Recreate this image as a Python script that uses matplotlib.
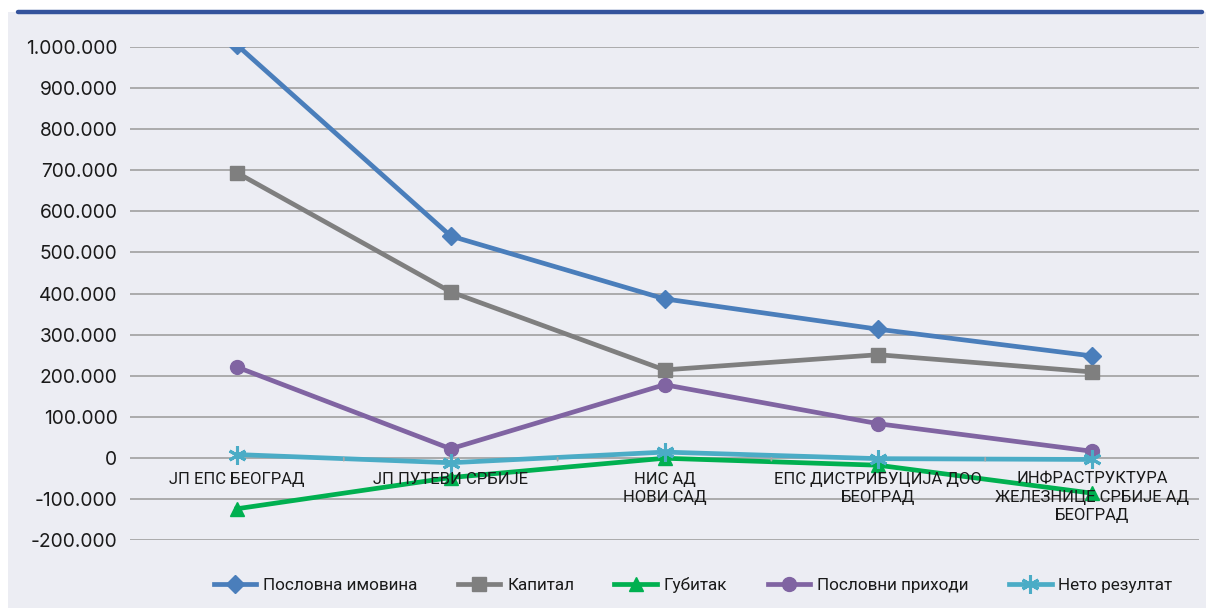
import matplotlib
matplotlib.use("Agg")
import matplotlib.pyplot as plt
from matplotlib.patches import Rectangle
from matplotlib.lines import Line2D
from matplotlib.ticker import FuncFormatter, FixedLocator

categories = [
    "ЈП ЕПС БЕОГРАД",
    "ЈП ПУТЕВИ СРБИЈЕ",
    "НИС АД\nНОВИ САД",
    "ЕПС ДИСТРИБУЦИЈА ДОО\nБЕОГРАД",
    "ИНФРАСТРУКТУРА\nЖЕЛЕЗНИЦЕ СРБИЈЕ АД\nБЕОГРАД",
]
poslovna_imovina = [1005000, 540000, 387000, 313000, 248000]
kapital = [694000, 404000, 214000, 251000, 209000]
gubitak = [-124000, -48000, -1000, -18000, -86000]
poslovni_prihodi = [221000, 22000, 178000, 83000, 16000]
neto_rezultat = [8000, -12000, 14000, -2000, -4000]

series_names = ["Пословна имовина", "Капитал", "Губитак", "Пословни приходи", "Нето резултат"]
series_values = [poslovna_imovina, kapital, gubitak, poslovni_prihodi, neto_rezultat]
colors = ["#4A7EBB", "#7F7F7F", "#00B050", "#8064A2", "#4BACC6"]
markers = ["D", "s", "^", "o", (6, 2, 0)]
msizes = [9, 9.5, 10, 10, 13]

yticks = list(range(-200000, 1000001, 100000))

W, H = 1206, 608
fig = plt.figure(figsize=(W / 100, H / 100), dpi=100, facecolor="white")
bg = "#ECEDF3"
fig.add_artist(Rectangle((8 / W, 0), 1 - 8 / W, 1 - 12 / H, transform=fig.transFigure,
                         facecolor=bg, edgecolor="none", zorder=0))
fig.add_artist(Line2D([18 / W, 1 - 4 / W], [1 - 12 / H, 1 - 12 / H], transform=fig.transFigure,
                      color="#34539C", linewidth=3.2, solid_capstyle="round"))

left, right = 130 / W, 1199 / W
top, bottom = 1 - 47 / H, 1 - 540 / H
ax = fig.add_axes([left, bottom, right - left, top - bottom])
ax.set_facecolor("none")

x = list(range(len(categories)))
for name, vals, c, m, ms in zip(series_names, series_values, colors, markers, msizes):
    mew = 2.2 if m == (6, 2, 0) else 1
    ax.plot(x, vals, color=c, linewidth=3.4, marker=m, markersize=ms,
            markerfacecolor=c, markeredgecolor=c, markeredgewidth=mew,
            label=name, zorder=3, solid_joinstyle="round")

ax.set_xlim(-0.5, len(categories) - 0.5)
ax.set_ylim(-200000, 1000000)
ax.yaxis.set_major_locator(FixedLocator(yticks))
ax.yaxis.set_major_formatter(FuncFormatter(lambda v, p: f"{int(v):,}".replace(",", ".")))
ax.grid(axis="y", color="#A6A6A6", linewidth=1.3, zorder=1)
for s in ax.spines.values():
    s.set_visible(False)
ax.tick_params(axis="y", length=0, pad=9, labelsize=13.8, labelcolor="#1a1a1a")
for lab in ax.get_yticklabels():
    lab.set_fontfamily("Inter")

# x axis: tick marks at category boundaries on the zero line
ax.set_xticks([])
bounds = [i + 0.5 for i in range(len(categories) - 1)]
for b in bounds:
    ax.annotate("", xy=(b, 0), xytext=(0, -4), textcoords="offset points",
                xycoords="data", arrowprops=dict(arrowstyle="-", color="#A6A6A6", lw=1.3))

for i, lab in enumerate(categories):
    ax.annotate(lab, xy=(i, 0), xytext=(0, -10), textcoords="offset points",
                ha="center", va="top", fontsize=12, family="Roboto", color="#1a1a1a",
                linespacing=1.25, zorder=4)

leg = fig.legend(loc="center", bbox_to_anchor=(693 / W, 1 - 585 / H), ncol=5, frameon=False,
                 prop={"family": "Roboto", "size": 12.3}, handlelength=2.5, handletextpad=0.4,
                 columnspacing=2.35, labelcolor="#1a1a1a")

fig.savefig("out.png", dpi=100, facecolor="white")
